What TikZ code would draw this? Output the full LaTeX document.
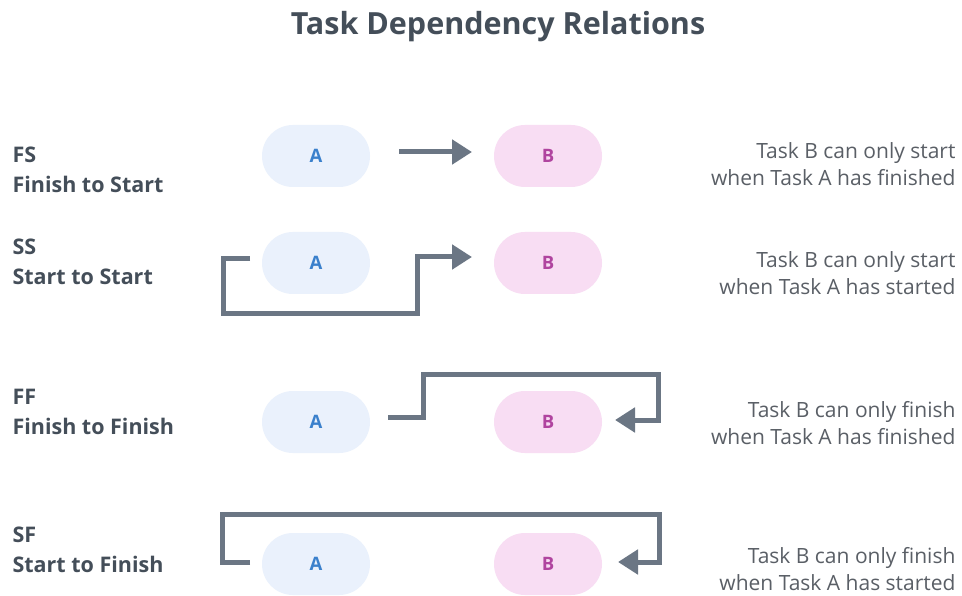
\documentclass[tikz,border=0pt]{standalone}
\usepackage{fontspec}
\setmainfont{Open Sans}
\usetikzlibrary{arrows.meta}
\definecolor{pillA}{HTML}{EAF1FC}
\definecolor{pillB}{HTML}{F8DDF3}
\definecolor{txtA}{HTML}{3A80CC}
\definecolor{txtB}{HTML}{B0449F}
\definecolor{conn}{HTML}{6B7684}
\definecolor{lbl}{HTML}{444E59}
\definecolor{desc}{HTML}{5A5F66}
\begin{document}
\begin{tikzpicture}[x=1pt,y=-1pt,
  pill/.style={rounded corners=31pt,minimum width=108pt,minimum height=62pt,inner sep=0pt,font=\fontsize{18.5}{20}\selectfont\bfseries},
  pa/.style={pill,fill=pillA,text=txtA},
  pb/.style={pill,fill=pillB,text=txtB},
  conn/.style={draw=conn,line width=5pt,-{Triangle[length=20pt,width=24pt]}},
  rowlbl/.style={anchor=west,align=left,text=lbl,font=\fontsize{21.5}{30}\selectfont\bfseries},
  desctxt/.style={anchor=east,align=right,text=desc,font=\fontsize{21}{26.5}\selectfont},
]
\useasboundingbox (0,0) rectangle (962,596);
\fill[white] (0,0) rectangle (962,596);
\node[text=lbl,font=\fontsize{30.5}{32}\selectfont\bfseries] (title) at (498,27) {Task Dependency Relations};

% row 1 FS
\node[pa] (A1) at (316,156) {A};
\node[pb] (B1) at (548,156) {B};
\node[rowlbl] (L1) at (9,170) {FS\\Finish to Start};
\node[desctxt] (D1) at (959,164) {Task B can only start\\when Task A has finished};
\coordinate (s1) at (399,152);
\coordinate (e1) at (472,152);
\draw[conn] (s1) -- (e1);

% row 2 SS
\node[pa] (A2) at (316,263) {A};
\node[pb] (B2) at (548,263) {B};
\node[rowlbl] (L2) at (9,262) {SS\\Start to Start};
\node[desctxt] (D2) at (959,273) {Task B can only start\\when Task A has started};
\coordinate (s2) at (250,259);
\coordinate (e2) at (472,257);
\draw[conn] (s2) -- (223,259) -- (223,314) -- (417,314) -- (417,257) -- (e2);

% row 3 FF
\node[pa] (A3) at (316,422) {A};
\node[pb] (B3) at (548,422) {B};
\node[rowlbl] (L3) at (9,412) {FF\\Finish to Finish};
\node[desctxt] (D3) at (959,423) {Task B can only finish\\when Task A has finished};
\coordinate (s3) at (388,417);
\coordinate (e3) at (615,420);
\draw[conn] (s3) -- (423,417) -- (423,374) -- (658,374) -- (658,420) -- (e3);

% row 4 SF
\node[pa] (A4) at (316,564) {A};
\node[pb] (B4) at (548,564) {B};
\node[rowlbl] (L4) at (9,550) {SF\\Start to Finish};
\node[desctxt] (D4) at (959,569) {Task B can only finish\\when Task A has started};
\coordinate (s4) at (250,562);
\coordinate (e4) at (618,562);
\draw[conn] (s4) -- (222,562) -- (222,514) -- (659,514) -- (659,562) -- (e4);
\end{tikzpicture}
\end{document}
